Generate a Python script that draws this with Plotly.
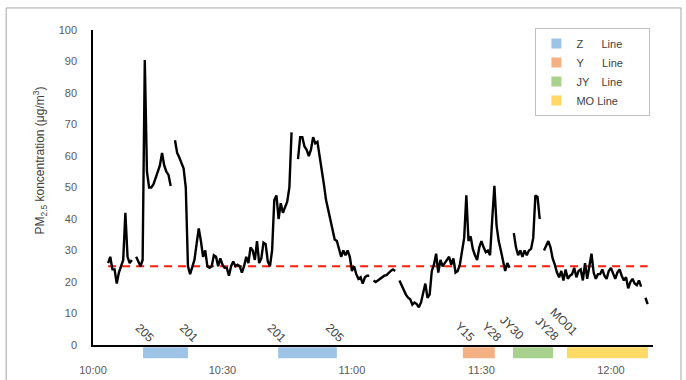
import pandas as pd
import plotly.graph_objects as go

DAY = "2024-01-01 "

# PM2.5 concentration series, 30 s resolution starting 10:03:30 (None = no data)
start_time = "10:03:30"
pm25 = [
    26, 28, 24, 24, 19.5, 23, 25, 27, 42, 28, 26, 27, None, 28, 26.5, 25, 27,
    90.5, 55, 50, 50, 51, 53, 55, 57, 61, 57, 55, 54, 50.5, None,
    65, 61, 59.5, 58, 56, 50, 25, 22.5, 24.5, 27, 32, 37, 33, 28, 30,
    25, 24.5, 25, 28.5, 28, 25, 27.5, 25.5, 24.5, 24.5, 22, 25, 26.5, 25, 25.5,
    25, 23, 25, 28, 26, 31, 30, 27, 33, 26, 27.5, 32.5, 32, 26.5, 25, 30,
    46, 47.5, 40, 45, 42, 44, 45.5, 50, 67.5, None, None,
    59, 66, 66, 63, 62, 60, 62, 66, 64, 64.5, 60, 56, 51, 46, 43, 40, 36.5,
    33.5, 33, 30, 28, 30, 28.5, 30, 28, 23.5, 25, 22.5, 21, 21.5, 19.5, 21.5,
    22, 22, None, 20.5, 20, 20.5, 21, 21.5, 22, 22.2, 23, 23.5, 24, 23.5, None,
    20.5, 19, 17, 16, 15, 14.5, 12.8, 13.5, 13, 12, 13.5, 17, 19.5, 15, 16,
    23.5, 25.5, 29, 23, 27, 25, 26, 27, 28, 25.5, 27.5, 23, 23.5,
    25.5, 30, 34, 47.5, 33, 34.5, 30.5, 28.5, 27, 31, 33, 31, 29.5, 30, 28.5,
    40, 50.5, 38, 33, 30, 27, 23.5, 26, 24.5, None,
    35.5, 31, 28.5, 30, 28, 30, 28.5, 30, 30.5, 34, 47.5, 47, 40, None,
    30, 31.5, 33, 31, 27.5, 25.5, 23, 21.5, 23.5, 20.5, 24, 21, 22, 22.5, 24.5,
    21.5, 23.5, 24, 20.5, 26, 21, 25, 29, 23, 21, 22.5, 22.5, 24, 22, 21, 23.5,
    24.5, 22.5, 21, 23, 24, 22, 20.5, 21.5, 18, 20, 21, 19.5, 19, 20.5, 18.5,
    None, 15, 13,
]
limit_value = 25

# Metro line segments shown as coloured bars under the time axis
NB = "&nbsp;"
line_names = ["Z" + NB * 6 + "Line" + NB * 7, "Y" + NB * 6 + "Line" + NB * 7,
              "JY" + NB * 4 + "Line" + NB * 7, "MO" + NB + "Line" + NB * 7]
line_colors = ["#9DC3E6", "#F4B183", "#A9D18E", "#FFD966"]
seg_line = [0, 0, 1, 2, 3]
seg_start = ["10:11:35", "10:42:54", "11:25:42", "11:37:18", "11:49:48"]
seg_end = ["10:22:00", "10:56:30", "11:33:06", "11:46:36", "12:08:36"]

# Station labels
station_labels = ["205", "201", "201", "205", "Y15", "Y28", "JY30", "JY28", "MO01"]
station_times = ["10:12:03", "10:22:15", "10:42:36", "10:56:06", "11:26:12", "11:32:24",
                 "11:37:06", "11:45:12", "11:49:06"]
station_level = [-0.008, -0.008, -0.008, -0.008, -0.008, -0.008, -0.002, -0.006, 0.010]

times = pd.date_range(DAY + start_time, periods=len(pm25), freq="30s")

FONT = "Liberation Sans"
TXT = "#595959"

fig = go.Figure()

fig.add_trace(go.Scatter(
    x=[times[0], times[-1]], y=[limit_value, limit_value], mode="lines",
    line=dict(color="#FF1E0A", width=2, dash="8px,6px"), showlegend=False, hoverinfo="skip"))

fig.add_trace(go.Scatter(
    x=times, y=pm25, mode="lines", connectgaps=False,
    line=dict(color="#000000", width=2.4), showlegend=False))

for name, col in zip(line_names, line_colors):
    fig.add_trace(go.Scatter(
        x=[None], y=[None], mode="markers", name=name,
        marker=dict(symbol="square", size=10, color=col)))

shapes = []
for li, s, e in zip(seg_line, seg_start, seg_end):
    shapes.append(dict(type="rect", xref="x", yref="paper",
                       x0=DAY + s, x1=DAY + e, y0=-0.007, y1=-0.042,
                       fillcolor=line_colors[li], line=dict(width=0), layer="above"))
# outer frame
shapes.append(dict(type="rect", xref="paper", yref="paper",
                   x0=-0.155, x1=1.05, y0=-0.12, y1=1.07,
                   line=dict(color="#A6A6A6", width=1)))

annotations = []
for lab, t, lv in zip(station_labels, station_times, station_level):
    annotations.append(dict(x=DAY + t, y=lv, xref="x", yref="paper", text=lab,
                            textangle=45, showarrow=False, xanchor="center",
                            yanchor="bottom", font=dict(family=FONT, size=12, color="#404040")))
annotations.append(dict(x=-0.095, y=0.585, xref="paper", yref="paper",
                        text="PM<sub>2.5</sub> koncentration (μg/m<sup>3</sup>)",
                        textangle=-90, showarrow=False, xanchor="center", yanchor="middle",
                        font=dict(family=FONT, size=12, color="#404040")))

fig.update_layout(
    width=686, height=380,
    margin=dict(l=93, r=33, t=30, b=35),
    paper_bgcolor="white", plot_bgcolor="white",
    font=dict(family=FONT, size=11, color=TXT),
    shapes=shapes, annotations=annotations,
    legend=dict(x=0.79, y=1.006, xanchor="left", yanchor="top",
                bordercolor="#BFBFBF", borderwidth=1, bgcolor="white",
                font=dict(family=FONT, size=11, color="#404040"),
                itemwidth=30, tracegroupgap=0),
)
fig.update_xaxes(
    type="date", range=[DAY + "10:00", DAY + "12:09:45"], automargin=False,
    tick0=DAY + "10:00", dtick=30 * 60 * 1000, tickformat="%H:%M",
    showline=True, linecolor="#000000", linewidth=1.5, showgrid=False, zeroline=False,
    ticks="", ticklabelstandoff=14, tickfont=dict(family=FONT, size=11, color=TXT))
fig.update_yaxes(
    range=[0, 100], dtick=10, showline=True, linecolor="#000000", linewidth=1.5,
    showgrid=False, zeroline=False, ticks="", ticklabelstandoff=12, automargin=False,
    tickfont=dict(family=FONT, size=11, color=TXT))

fig.write_html("out.html", config={"displayModeBar": False},
               post_script="document.body.style.margin='0';")
